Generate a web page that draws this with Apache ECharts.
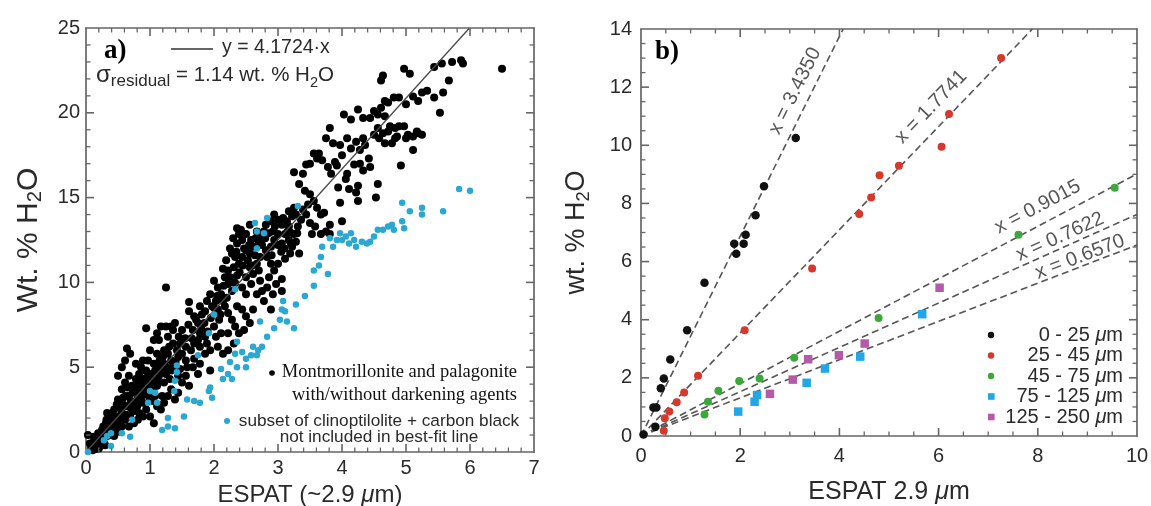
<!DOCTYPE html>
<html><head><meta charset="utf-8">
<script src="https://cdn.jsdelivr.net/npm/echarts@6/dist/echarts.min.js"></script>
<style>html,body{margin:0;padding:0;background:#fff}#c{width:1151px;height:506px}</style>
</head><body><div id="c"></div><script>
// ---------- Panel a data ----------
const fitSlopeA = 4.1724;
const montmorillonite = [
[6.5,22.6],[5.72,23.0],[5.86,23.1],[5.89,22.9],[5.56,22.9],[5.44,22.7],[4.97,22.6],[5.06,22.3],[4.64,22.2],[4.61,21.9],
[5.67,21.9],[5.58,21.2],[5.44,20.9],[5.33,21.3],[5.25,21.2],[5.19,20.7],[5.11,20.96],
[4.81,20.9],[4.89,20.9],[5.0,20.5],[4.72,20.6],[4.67,20.7],[4.61,20.3],[4.5,20.1],[4.56,19.9],[4.67,19.8],
[4.03,19.9],[4.14,19.6],[4.25,20.2],[4.33,19.7],[4.44,19.7],
[5.53,20.0],[5.11,17.8],[4.92,16.9],[5.19,18.8],[5.25,18.7],[5.11,18.6],[5.0,18.5],[4.89,19.2],[4.97,19.2],[4.83,19.1],[4.75,19.2],[4.72,18.9],[4.64,18.8],[4.58,18.5],[4.56,19.1],[4.5,18.7],[4.67,18.2],[4.78,18.2],[4.83,18.5],
[4.86,18.6],[5.03,18.7],[5.17,18.9],
[3.81,19.1],[3.75,18.5],[3.86,18.2],[3.97,18.1],[4.0,17.5],[4.08,18.5],[4.14,17.9],[4.22,18.3],[4.28,17.8],[4.33,18.5],[4.36,18.1],[4.42,17.3],[4.44,16.8],[4.33,16.6],[4.28,17.0],[4.19,16.95],[4.08,16.4],[4.06,16.1],[4.11,15.5],[4.22,15.3],[4.25,15.7],[4.56,15.8],[4.53,15.0],[4.25,14.8],[3.97,14.7],[3.72,14.1],[3.94,15.6],[3.83,16.4],[3.92,16.9],[3.78,16.8],[3.69,17.2],[3.61,17.3],[3.56,17.6],[3.64,17.6],[3.5,17.0],[3.44,16.95],[3.39,16.4],[3.25,16.5],[3.33,15.8],[3.42,15.4],[3.5,15.2],[3.56,14.8],[3.61,14.4],[3.67,14.0],[3.81,13.4],[3.5,13.5],[4.0,13.6],[3.89,17.1],
[3.25,14.4],[3.17,14.2],[3.22,13.9],[3.08,13.8],[3.0,13.7],[3.06,13.4],[2.94,14.0],[2.89,13.6],[2.81,13.4],[2.78,13.0],[2.92,13.0],[3.0,12.85],[3.11,12.85],[3.19,12.95],[3.25,12.85],[3.17,12.5],[3.06,12.3],[2.94,12.5],[2.89,12.1],[2.81,11.9],[2.72,11.5],[2.67,11.1],[2.56,10.9],[2.5,10.3],[2.58,9.9],[2.67,9.3],[2.78,8.9],[2.75,9.5],[2.86,10.3],[2.94,10.7],[3.0,11.1],[2.89,11.1],[2.83,11.5],[3.19,11.7],[3.17,13.3],[2.67,13.0],[2.56,13.4],[2.5,12.85],[2.44,12.5],[2.39,12.85],[2.36,13.2],[2.36,12.3],[2.28,11.7],[2.33,11.5],[2.39,11.1],[2.44,11.5],[2.56,11.7],[2.61,12.1],[2.58,12.5],[2.31,10.9],[2.22,10.7],[2.17,10.3],[2.22,9.9],[2.28,9.5],[2.33,9.96],[2.44,9.7],[2.5,9.3],[2.0,10.1],[2.06,9.7],[2.11,9.3],[2.14,8.9],[2.03,8.9],[1.94,9.3],[1.89,8.9],[1.97,8.6],[2.06,8.4],[2.17,8.6],[2.22,8.2],[2.08,7.8],[2.0,7.4],[2.11,7.0],[2.03,6.8],[2.22,7.0],[2.33,7.4],[2.28,7.8],
[3.06,9.5],[2.92,9.3],[3.06,10.2],[3.33,11.7],[3.22,12.1],[3.53,12.85],[3.67,12.85],[3.81,12.85],
[3.28,14.0],[3.36,13.7],[3.44,14.0],[3.31,13.3],
[2.47,12.0],[2.53,11.3],[2.64,11.6],[2.7,12.4],[2.75,12.7],[2.42,13.1],[2.3,12.6],[2.25,12.0],[2.19,11.3],[2.14,10.8],[2.36,10.4],[2.61,10.5],[2.72,10.1],[2.83,9.7],[2.97,9.9],[3.11,11.4],[3.28,12.4],[3.14,13.6],[3.39,14.3],[3.47,14.6],[3.58,13.3],[3.75,13.0],
[1.25,9.7],[1.61,8.85],[1.61,8.3],[1.69,8.0],[1.78,8.6],[1.81,8.1],[1.86,8.3],[1.75,7.6],[1.67,7.2],[1.78,7.0],[1.86,6.8],[1.89,6.4],[1.78,6.2],[1.69,6.4],[1.64,6.0],[1.56,6.2],[1.47,6.4],[1.5,5.8],[1.42,6.0],[1.44,5.6],[1.56,5.4],[1.67,5.0],[1.78,5.2],[1.86,5.8],[1.94,6.0],[1.36,6.4],[1.28,6.8],[1.33,7.4],[1.39,7.6],[1.36,7.2],[1.25,7.4],[1.17,7.4],[1.11,7.0],[1.14,6.6],[1.06,6.6],[1.0,6.0],[1.11,5.8],[1.22,6.0],[1.28,5.8],[1.33,5.4],[1.22,5.2],[1.14,5.0],[1.06,5.2],[0.97,5.4],[0.94,4.8],[1.03,4.6],[1.14,4.5],[1.25,4.6],[1.31,4.3],[1.22,4.1],[1.11,3.9],[1.03,4.1],[0.94,3.9],[0.89,4.3],[0.83,4.6],[0.86,5.0],[0.78,5.2],[0.89,5.4],[0.69,5.8],[0.64,6.1],[0.61,5.4],[0.56,5.0],[0.94,7.3],[1.0,3.1],[1.11,2.7],[1.19,3.3],[1.08,3.3],[0.94,2.5],[0.89,2.9],[0.83,3.5],[0.72,3.9],[0.78,4.3],[0.67,4.5],[0.61,4.1],[0.56,3.7],[0.5,4.5],[0.67,3.3],[0.75,2.9],[0.83,2.3],[0.61,2.7],[0.56,2.3],[0.5,3.1],[0.44,2.5],[0.39,2.1],[0.33,2.3],[0.36,1.5],[0.31,1.7],[0.25,1.3],[0.19,1.1],[0.17,0.74],[0.11,0.55],[0.08,0.25],[0.14,0.16],[0.03,1.0],[0.22,0.35],[0.28,0.55],[0.33,0.94],[0.44,1.3],[0.5,1.7],[0.56,1.5],[0.61,1.9],[0.69,2.1],[0.5,2.1],[0.42,1.7],[0.28,1.1],[0.44,0.94],[0.67,1.5],[0.75,1.7],[0.81,1.9],[0.89,2.1],[1.0,2.1],[1.06,1.7],[1.17,2.5],[1.22,2.9],[1.28,3.3],[1.33,3.7],[1.39,3.1],[1.44,3.5],[1.5,4.1],[1.56,4.5],[1.44,4.5],[1.33,4.8],[1.47,4.9],[1.58,5.0],[1.69,5.5],[1.75,4.6],[1.61,3.9],
[2.06,6.2],[2.14,5.8],[2.22,6.0],[2.31,6.4],[2.39,7.0],[2.47,7.2],[2.56,7.6],[2.5,8.0],[2.44,8.4],[2.36,8.6],[2.61,8.4],[2.89,8.4],[1.94,4.8],
[0.15,0.3],[0.2,0.6],[0.25,0.9],[0.3,0.4],[0.35,1.2],[0.4,1.0],[0.45,1.9],[0.52,1.2],[0.58,2.8],[0.62,3.3],[0.7,2.6],[0.73,3.5],[0.8,3.1],[0.85,3.9],[0.9,3.4],[0.95,4.4],[1.0,3.7],[1.05,3.0],[0.12,0.9],[0.06,0.5],[0.1,0.1],[0.2,0.2],
[0.23,0.8],[0.27,1.5],[0.32,1.9],[0.38,1.4],[0.41,2.3],[0.47,1.5],[0.48,2.8],[0.53,2.0],[0.55,2.6],[0.58,3.2],[0.63,2.2],[0.65,3.8],[0.7,3.0],[0.74,2.4],[0.77,3.6],[0.8,2.7],[0.82,4.0],[0.86,3.2],[0.88,4.8],[0.92,3.6],[0.96,4.1],[0.98,3.3],[1.02,4.4],[1.05,3.6],[1.08,4.8],[1.12,4.2],[1.15,5.4],[1.18,4.7],[1.2,5.6],[1.25,5.0],[1.3,6.2],[1.35,5.0],[1.4,5.3],[1.45,6.8],[1.5,7.2],[1.55,6.7],[1.6,7.5],[1.65,6.7],[1.72,7.8],[1.75,6.6],[1.8,7.3],[1.85,7.6],[1.9,7.1],[1.95,7.9],[2.0,8.5],[2.05,9.2],[2.1,8.1],[2.15,9.8],[2.2,9.1],[2.25,10.3],[2.3,10.0],[2.35,11.8],[2.4,10.6],[2.45,11.0],[2.5,11.9],[2.55,12.2],[2.6,11.0],[2.65,12.6],[2.7,10.7],[2.75,12.2],[2.8,12.6],[2.85,12.9],[2.9,11.6],[2.95,13.3],[3.0,12.2],[3.05,11.8],[3.1,12.0],[3.15,13.0],[3.2,12.3],[3.3,12.9]
];
const clinoptilolite = [
[0.03,0],[0.33,0.94],[0.39,1.1],[0.28,0.7],[0.56,1.1],[0.69,0.9],[0.72,1.9],[0.39,0.35],[0.97,2.9],[1.0,3.6],[1.11,2.9],[1.08,3.5],[1.19,1.3],[1.28,2.0],[1.28,1.5],[1.39,1.4],[1.42,5.1],[1.39,4.2],[1.38,3.6],[1.42,4.7],[1.53,2.1],[1.58,3.1],[1.69,3.0],[1.78,2.9],[1.75,5.7],[1.92,3.6],[1.94,3.8],[1.97,3.2],[2.0,8.1],[1.92,7.0],[2.11,4.9],[2.14,4.3],[2.25,5.3],[2.28,4.3],[2.22,4.6],[2.33,5.8],[2.36,6.5],[2.44,5.9],[2.33,9.6],[2.36,5.0],[2.5,5.5],[2.5,5.0],[2.58,5.7],[2.61,6.2],[2.67,5.7],[2.69,6.0],[2.75,6.2],[2.72,7.7],[2.83,6.8],[2.94,7.3],[3.03,7.8],[3.11,8.3],[3.08,8.9],[3.06,8.4],[3.14,7.7],[3.25,7.3],[3.28,8.7],[3.42,9.2],[3.56,9.8],[3.56,10.7],[3.64,11.0],[3.67,11.5],[3.69,12.1],[3.78,10.5],[3.81,12.6],[3.86,12.1],[3.92,12.5],[3.97,12.9],[4.0,12.5],[4.06,12.7],[4.11,12.3],[4.14,12.9],[4.19,12.5],[4.22,12.1],[4.31,12.4],[4.39,12.3],[4.44,12.4],[4.5,12.7],[4.56,13.1],[4.64,13.1],[4.72,13.3],[4.81,13.1],[4.78,13.4],[4.94,13.6],[4.97,13.2],[4.94,14.7],[5.06,14.2],[5.25,14.4],[5.25,14.0],[5.58,14.2],[5.83,15.5],[6.0,15.4],[2.64,13.5],[2.67,13.0],[2.67,12.0],[2.83,13.8],[2.78,12.9],[3.31,14.5]
];
// ---------- Panel b data ----------
const sizeClasses = ['0 - 25 μm','25 - 45 μm','45 - 75 μm','75 - 125 μm','125 - 250 μm'];
const size0_25 = [[0.05,0.05],[0.29,0.32],[0.25,0.98],[0.31,0.98],[0.40,1.64],[0.46,1.98],[0.59,2.63],[0.93,3.64],[1.28,5.27],[1.88,6.61],[1.92,6.27],[2.07,6.61],[2.11,6.92],[2.31,7.59],[2.48,8.59],[3.12,10.25]];
const size25_45 = [[0.46,0.18],[0.48,0.61],[0.57,0.84],[0.72,1.16],[0.87,1.5],[1.15,2.07],[2.09,3.64],[3.45,5.76],[4.4,7.64],[4.64,8.2],[4.81,8.97],[5.2,9.3],[6.06,9.95],[6.21,11.08],[7.26,13.0]];
const size45_75 = [[1.28,0.74],[1.35,1.18],[1.56,1.56],[1.98,1.89],[2.39,1.98],[3.09,2.69],[4.79,4.06],[7.61,6.92],[9.55,8.54]];
const size75_125 = [[1.96,0.84],[2.29,1.18],[2.34,1.41],[3.34,1.83],[3.71,2.32],[4.42,2.73],[5.67,4.19]];
const size125_250 = [[2.6,1.45],[3.06,1.94],[3.37,2.64],[3.99,2.78],[4.51,3.18],[6.02,5.1]];
const slopesB = [3.4350, 1.7741, 0.9015, 0.7622, 0.6570];
const slopeLabels = ['x = 3.4350','x = 1.7741','x = 0.9015','x = 0.7622','x = 0.6570'];
const slopeLabelAt = [[3.105,11.87],[5.85,11.32],[8.0,7.88],[8.45,6.85],[8.85,6.16]];
const ticksA = {xmin:0,xmax:7,xstep:1,xminor:5,ymin:0,ymax:25,ystep:5,yminor:5};
const ticksB = {xmin:0,xmax:10,xstep:2,xminor:4,ymin:0,ymax:14,ystep:2,yminor:4};

const SANS = '"Liberation Sans", Arial, sans-serif';
const SERIF = '"Liberation Serif", "Times New Roman", serif';
const AX = '#666666';
const TXT = '#2a2a2a';
const colorsB = ['#111111','#d7382c','#3ca83a','#22a6e6','#b45aa6'];
const symbolsB = ['circle','circle','circle','rect','rect'];

const GRIDS = [
  {left: 86, top: 28, width: 448, height: 424},
  {left: 641, top: 29, width: 496, height: 407}
];

function mainAxis(kind, grid, t, fs, margin, extra) {
  const isX = kind === 'x';
  return Object.assign({
    gridIndex: grid, position: isX ? 'bottom' : 'left', type: 'value',
    min: isX ? t.xmin : t.ymin, max: isX ? t.xmax : t.ymax, interval: isX ? t.xstep : t.ystep,
    axisLine: {show: true, onZero: false, lineStyle: {color: AX, width: 1.7}},
    axisTick: {show: false}, minorTick: {show: false},
    splitLine: {show: false}, minorSplitLine: {show: false},
    axisLabel: {show: true, color: TXT, fontSize: fs, fontFamily: SANS, margin: margin}
  }, extra || {});
}
function frameAxis(kind, grid, t) {
  const isX = kind === 'x';
  return {
    gridIndex: grid, position: isX ? 'top' : 'right', type: 'value',
    min: isX ? t.xmin : t.ymin, max: isX ? t.xmax : t.ymax, interval: isX ? t.xstep : t.ystep,
    axisLine: {show: true, onZero: false, lineStyle: {color: AX, width: 1.7}},
    axisTick: {show: false}, minorTick: {show: false}, splitLine: {show: false},
    axisLabel: {show: false}
  };
}

const nameRich = (fs) => ({
  a: {fontSize: fs, fontFamily: SANS, color: TXT, lineHeight: 32},
  s: {fontSize: fs*0.68, fontFamily: SANS, color: TXT, lineHeight: 15, verticalAlign: 'bottom'},
  i: {fontSize: fs, fontFamily: SANS, fontStyle: 'italic', color: TXT, lineHeight: 32}
});

const slopeSeries = slopesB.map((k) => {
  const xEnd = Math.min(ticksB.xmax, ticksB.ymax / k);
  return {
    type: 'line', xAxisIndex: 2, yAxisIndex: 2, silent: true, symbol: 'none', z: 1,
    data: [[0, 0], [xEnd, k * xEnd]],
    lineStyle: {color: '#555', width: 1.6, type: [7, 4]}
  };
});

const labelAngles = slopesB.map(k => {
  const pxPerX = GRIDS[1].width / (ticksB.xmax - ticksB.xmin), pxPerY = GRIDS[1].height / (ticksB.ymax - ticksB.ymin);
  return Math.atan(k * pxPerY / pxPerX) * 180 / Math.PI;
});

const sizesB = [8.5, 8, 8, 8.5, 8.5];
const dataB = [size0_25, size25_45, size45_75, size75_125, size125_250];

const legendB = [];
sizeClasses.forEach((n, i) => {
  const cy = 335 + i * 20.5;
  if (symbolsB[i] === 'circle') {
    legendB.push({type: 'circle', shape: {cx: 991, cy: cy, r: 3.2}, style: {fill: colorsB[i]}});
  } else {
    legendB.push({type: 'rect', shape: {x: 988, y: cy - 3.3, width: 6.6, height: 6.6}, style: {fill: colorsB[i]}});
  }
  legendB.push({type: 'text', x: 1123, y: cy, style: {
    text: '{n|' + n.replace('μm', '') + '}{u|μ}{n|m}', align: 'right', verticalAlign: 'middle',
    rich: {
      n: {fontSize: 20, fontFamily: SANS, fill: TXT},
      u: {fontSize: 20, fontFamily: SANS, fontStyle: 'italic', fill: TXT}
    }
  }});
});

const option = {
  animation: false,
  backgroundColor: '#fff',
  grid: GRIDS.map(g => Object.assign({outerBoundsMode: 'none', containLabel: false}, g)),
  xAxis: [
    mainAxis('x', 0, ticksA, 20, 6, {
      name: '{a|ESPAT (~2.9 }{i|μ}{a|m)}', nameLocation: 'middle', nameGap: 23,
      nameTextStyle: {rich: nameRich(24)}
    }),
    frameAxis('x', 0, ticksA),
    mainAxis('x', 1, ticksB, 20, 10, {
      name: '{a|ESPAT 2.9 }{i|μ}{a|m}', nameLocation: 'middle', nameGap: 40,
      nameTextStyle: {rich: nameRich(25)}
    }),
    frameAxis('x', 1, ticksB)
  ],
  yAxis: [
    mainAxis('y', 0, ticksA, 20, 6, {
      name: '{a|Wt. % H}{s|2}{a|O}', nameLocation: 'middle', nameGap: 41,
      nameTextStyle: {rich: nameRich(30)}
    }),
    frameAxis('y', 0, ticksA),
    mainAxis('y', 1, ticksB, 20, 9, {
      name: '{a|wt. % H}{s|2}{a|O}', nameLocation: 'middle', nameGap: 48,
      nameTextStyle: {rich: nameRich(27)}
    }),
    frameAxis('y', 1, ticksB)
  ],
  series: [
    {
      type: 'line', xAxisIndex: 0, yAxisIndex: 0, symbol: 'none', silent: true, z: 3,
      data: [[0, 0], [ticksA.ymax / fitSlopeA, ticksA.ymax]],
      lineStyle: {color: '#4a4a4a', width: 1.3}
    },
    {
      type: 'scatter', xAxisIndex: 0, yAxisIndex: 0, data: montmorillonite, symbolSize: 8, z: 2,
      itemStyle: {color: '#000', opacity: 1}
    },
    {
      type: 'scatter', xAxisIndex: 0, yAxisIndex: 0, data: clinoptilolite, symbolSize: 6.5, z: 4,
      itemStyle: {color: '#2aa8d2', opacity: 1}
    },
    ...slopeSeries,
    ...dataB.map((d, i) => ({
      name: sizeClasses[i], type: 'scatter', xAxisIndex: 2, yAxisIndex: 2, data: d,
      symbol: symbolsB[i], symbolSize: sizesB[i], z: 5, itemStyle: {color: colorsB[i], opacity: 1}
    })),
    {
      type: 'scatter', xAxisIndex: 2, yAxisIndex: 2, symbolSize: 0, silent: true, z: 6,
      data: slopeLabelAt.map((p, i) => ({
        value: p,
        label: {show: true, position: 'inside', formatter: slopeLabels[i], rotate: labelAngles[i],
          fontSize: 20, fontFamily: SANS, color: TXT, align: 'center', verticalAlign: 'middle'}
      }))
    }
  ],
  graphic: [
    {type: 'text', x: 104, y: 51, style: {text: 'a)', fontSize: 27, fontWeight: 'bold', fontFamily: SERIF, fill: '#000', verticalAlign: 'middle'}},
    {type: 'text', x: 655, y: 52, style: {text: 'b)', fontSize: 27, fontWeight: 'bold', fontFamily: SERIF, fill: '#000', verticalAlign: 'middle'}},
    {type: 'line', shape: {x1: 171, y1: 49, x2: 213, y2: 49}, style: {stroke: '#333', lineWidth: 1.3}},
    {type: 'text', x: 222, y: 48, style: {text: 'y = 4.1724·x', fontSize: 19.5, fontFamily: SANS, fill: TXT, verticalAlign: 'middle'}},
    {type: 'text', x: 96, y: 75, style: {
      text: '{g|σ}{r|residual}{n| = 1.14 wt. % H}{t|2}{n|O}', verticalAlign: 'middle',
      rich: {
        g: {fontSize: 24, fontFamily: SANS, fill: TXT, lineHeight: 30},
        r: {fontSize: 17, fontFamily: SANS, fill: TXT, lineHeight: 17, verticalAlign: 'bottom'},
        n: {fontSize: 20.5, fontFamily: SANS, fill: TXT, lineHeight: 30},
        t: {fontSize: 14.5, fontFamily: SANS, fill: TXT, lineHeight: 16, verticalAlign: 'bottom'}
      }
    }},
    {type: 'circle', shape: {cx: 272, cy: 373, r: 2.8}, style: {fill: '#000'}},
    {type: 'text', x: 517, y: 384, style: {text: 'Montmorillonite and palagonite\nwith/without darkening agents', fontSize: 18.5, fontFamily: SERIF, fill: '#111', align: 'right', verticalAlign: 'middle', lineHeight: 23}},
    {type: 'circle', shape: {cx: 227, cy: 421, r: 3}, style: {fill: '#2aa8d2'}},
    {type: 'text', x: 379, y: 429, style: {text: 'subset of clinoptilolite + carbon black\nnot included in best-fit line', fontSize: 17.2, fontFamily: SANS, fill: TXT, align: 'center', verticalAlign: 'middle', lineHeight: 16}},
    ...legendB
  ]
};
const chart = echarts.init(document.getElementById('c'), null, {renderer: 'canvas'});
chart.setOption(option);

// inward tick marks on all four frame edges, positioned through the axes' own scales
function buildTicks(xi, yi, t, majorLen, minorLen) {
  const els = [];
  const P = (x, y) => chart.convertToPixel({xAxisIndex: xi, yAxisIndex: yi}, [x, y]);
  const nx = Math.round((t.xmax - t.xmin) / t.xstep * t.xminor);
  for (let i = 1; i < nx; i++) {
    const v = t.xmin + i * t.xstep / t.xminor, major = i % t.xminor === 0;
    const L = major ? majorLen : minorLen, w = major ? 1.6 : 1.3;
    const b = P(v, t.ymin), tp = P(v, t.ymax);
    if (!b || !tp) continue;
    els.push({type: 'line', silent: true, z: 100, shape: {x1: b[0], y1: b[1], x2: b[0], y2: b[1] - L}, style: {stroke: AX, lineWidth: w}});
    els.push({type: 'line', silent: true, z: 100, shape: {x1: tp[0], y1: tp[1], x2: tp[0], y2: tp[1] + L}, style: {stroke: AX, lineWidth: w}});
  }
  const ny = Math.round((t.ymax - t.ymin) / t.ystep * t.yminor);
  for (let i = 1; i < ny; i++) {
    const v = t.ymin + i * t.ystep / t.yminor, major = i % t.yminor === 0;
    const L = major ? majorLen : minorLen, w = major ? 1.6 : 1.3;
    const l = P(t.xmin, v), r = P(t.xmax, v);
    if (!l || !r) continue;
    els.push({type: 'line', silent: true, z: 100, shape: {x1: l[0], y1: l[1], x2: l[0] + L, y2: l[1]}, style: {stroke: AX, lineWidth: w}});
    els.push({type: 'line', silent: true, z: 100, shape: {x1: r[0], y1: r[1], x2: r[0] - L, y2: r[1]}, style: {stroke: AX, lineWidth: w}});
  }
  return els;
}
const tickEls = buildTicks(0, 0, ticksA, 8, 4.5).concat(buildTicks(2, 2, ticksB, 8, 4.5));
option.graphic = option.graphic.concat(tickEls);
chart.setOption(option, true);
</script></body></html>
